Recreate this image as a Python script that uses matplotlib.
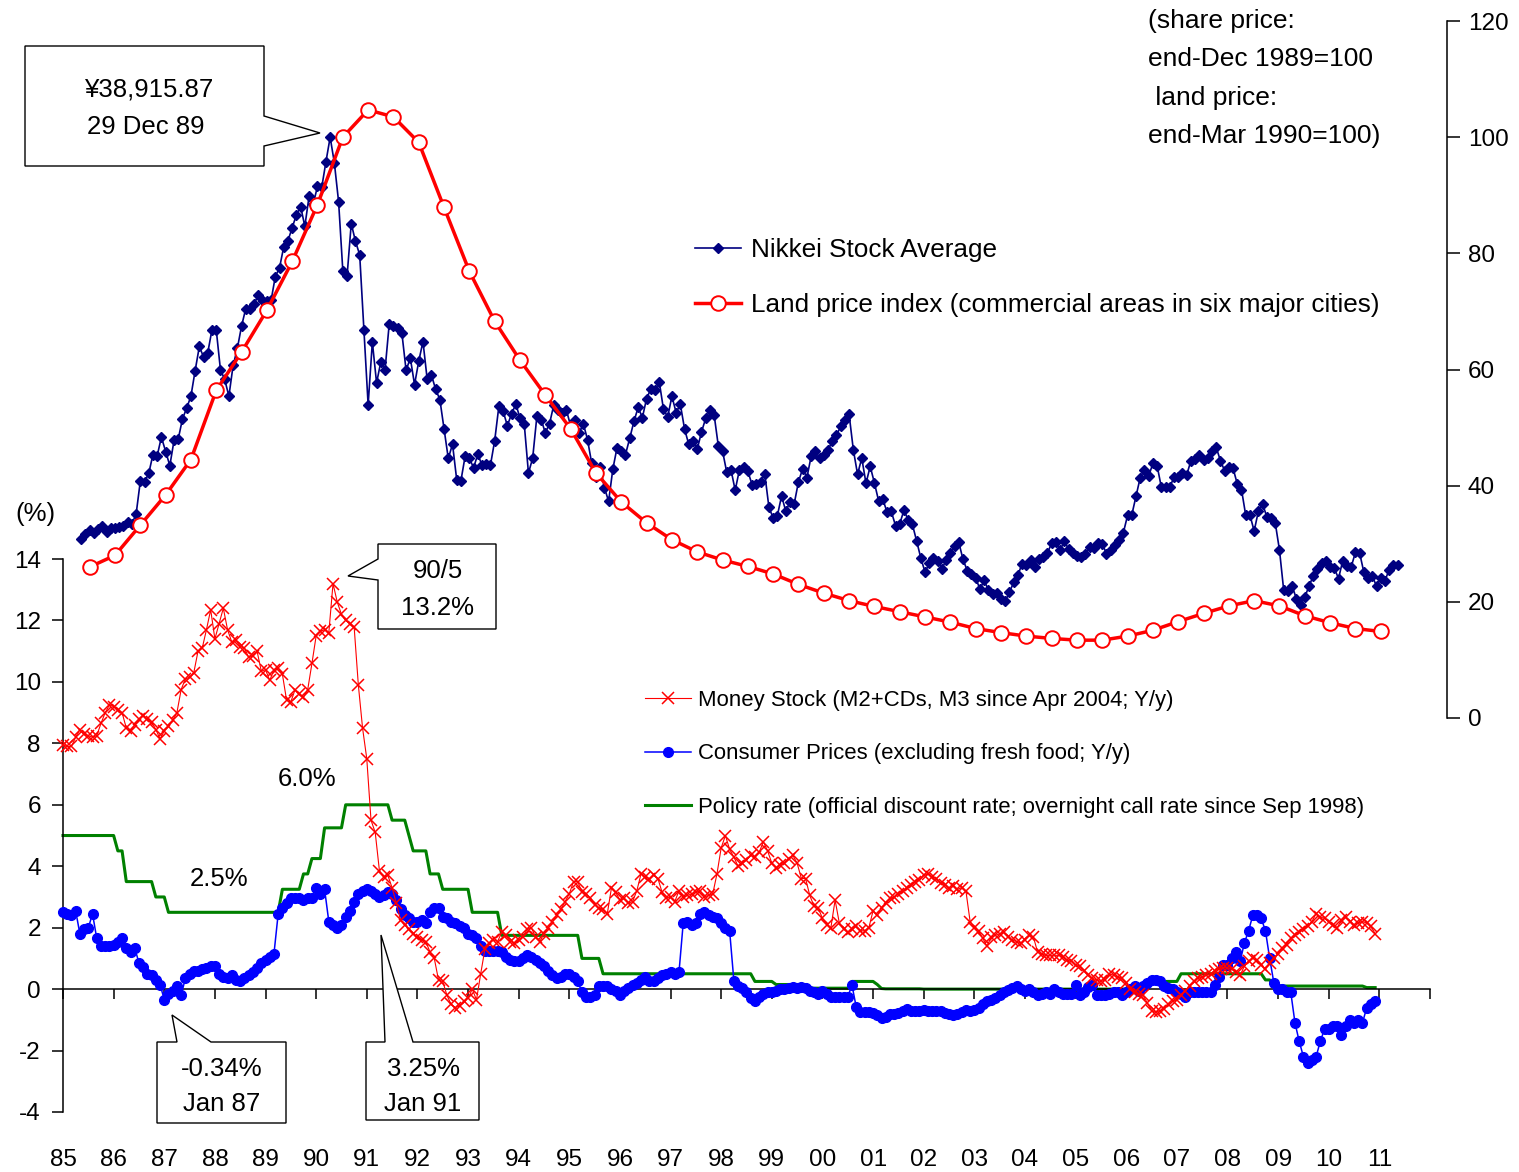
import numpy as np
import matplotlib.pyplot as plt
from matplotlib.patches import Polygon

plt.rcParams['font.family'] = ['Liberation Sans', 'DejaVu Sans']
plt.rcParams['axes.unicode_minus'] = False

# ---------------------------------------------------------------- data
# Nikkei Stock Average, month-end close (yen), Jan 1985 - Jan 2011
nikkei_close = [
    11992, 12322, 12580, 12426, 12642, 12882, 12480, 12711, 12700, 12803, 12834, 13113,  # 85
    13024, 13641, 15859, 15826, 16384, 17654, 17563, 18820, 17852, 16910, 18600, 18701,  # 86
    20048, 20766, 21567, 23275, 24901, 24176, 24488, 26029, 26011, 23329, 22687, 21564,  # 87
    23622, 24760, 26260, 27435, 27417, 27769, 28341, 27911, 27923, 27983, 29579, 30159,  # 88
    31581, 31986, 32839, 33714, 34267, 32949, 34954, 34431, 35637, 35549, 37269, 38916,  # 89
    37189, 34592, 29980, 29585, 33131, 31940, 31036, 25978, 20984, 25194, 22454, 23849,  # 90
    23293, 26409, 26292, 26111, 25790, 23291, 24121, 22336, 23916, 25222, 22687, 22984,  # 91
    22023, 21339, 19346, 17391, 18348, 15952, 15910, 17555, 17399, 16767, 17684, 16925,  # 92
    17024, 16953, 18591, 20919, 20552, 19590, 20380, 21027, 20106, 19704, 16408, 17417,  # 93
    20229, 19997, 19112, 19725, 20974, 20644, 20450, 20629, 19564, 19990, 19076, 19723,  # 94
    18650, 17053, 16140, 16807, 15437, 14517, 16678, 18117, 17913, 17655, 18744, 19868,  # 95
    20813, 20125, 21407, 22041, 21956, 22531, 20693, 20167, 21556, 20467, 21020, 19361,  # 96
    18330, 18557, 18003, 19151, 20069, 20605, 20331, 18229, 17888, 16459, 16636, 15259,  # 97
    16628, 16832, 16527, 15641, 15671, 15830, 16379, 14108, 13406, 13565, 14884, 13842,  # 98
    14499, 14368, 15837, 16702, 16112, 17530, 17862, 17437, 17605, 17942, 18558, 18934,  # 99
    19540, 19960, 20337, 17974, 16332, 17411, 15728, 16861, 15747, 14540, 14649, 13786,  # 00
    13844, 12884, 12999, 13934, 13262, 12969, 11861, 10714, 9775, 10366, 10697, 10543,   # 01
    9998, 10588, 11025, 11493, 11764, 10622, 9877, 9619, 9383, 8640, 9216, 8579,         # 02
    8340, 8363, 7973, 7831, 8425, 9083, 9563, 10344, 10219, 10560, 10101, 10677,         # 03
    10784, 11042, 11715, 11762, 11236, 11859, 11326, 11082, 10824, 10771, 11015, 11489,  # 04
    11388, 11741, 11669, 11009, 11277, 11584, 11900, 12414, 13574, 13607, 14872, 16111,  # 05
    16650, 16205, 17060, 16906, 15467, 15505, 15457, 16141, 16128, 16399, 16274, 17226,  # 06
    17383, 17604, 17288, 17400, 17876, 18138, 17249, 16569, 16786, 16738, 15681, 15308,  # 07
    13592, 13603, 12526, 13850, 14339, 13482, 13377, 13073, 11260, 8577, 8512, 8860,     # 08
    7994, 7568, 8110, 8828, 9523, 9958, 10357, 10493, 10133, 10035, 9346, 10546,         # 09
    10198, 10126, 11090, 11057, 9769, 9383, 9537, 8824, 9369, 9202, 9937, 10229,         # 10
    10238,                                                                              # 11
]
nikkei_peak = 38915.87  # 29 Dec 1989

# land price index, commercial areas in six major cities, end-Mar / end-Sep, Mar 1985 - Sep 2010
land_price = [
    26.0, 28.0, 33.2, 38.4, 44.5, 56.4, 63.0, 70.2, 78.6, 88.4,
    100.0, 104.7, 103.5, 99.1, 87.9, 76.9, 68.3, 61.6, 55.6, 49.8,
    42.2, 37.2, 33.6, 30.7, 28.6, 27.2, 26.1, 24.8, 23.0, 21.5,
    20.2, 19.2, 18.3, 17.4, 16.5, 15.4, 14.7, 14.1, 13.7, 13.4,
    13.4, 14.1, 15.1, 16.6, 18.0, 19.3, 20.2, 19.3, 17.6, 16.4,
    15.4, 14.9,
]

# money stock, % y/y, monthly Jan 1985 - Dec 2010
money_stock = [
    7.95, 7.9, 7.9, 8.2, 8.45, 8.3, 8.25, 8.2, 8.25, 8.65, 9.0, 9.25,          # 85
    9.2, 9.1, 9.0, 8.5, 8.4, 8.6, 8.8, 8.9, 8.8, 8.7, 8.45, 8.15,              # 86
    8.4, 8.55, 8.75, 9.0, 9.75, 10.1, 10.15, 10.3, 11.0, 11.1, 11.7, 12.35,    # 87
    11.4, 11.9, 12.4, 11.7, 11.3, 11.35, 11.15, 11.1, 10.8, 10.85, 11.0, 10.35,  # 88
    10.4, 10.05, 10.4, 10.45, 10.25, 9.4, 9.35, 9.75, 9.6, 9.5, 9.75, 10.6,    # 89
    11.5, 11.65, 11.7, 11.6, 13.2, 12.6, 12.2, 12.0, 11.9, 11.8, 9.9, 8.5,     # 90
    7.5, 5.5, 5.1, 3.85, 3.65, 3.7, 3.3, 2.8, 2.25, 2.1, 1.95, 1.8,            # 91
    1.7, 1.6, 1.55, 1.2, 1.0, 0.3, 0.25, -0.2, -0.5, -0.6, -0.55, -0.4,        # 92
    -0.3, 0.0, -0.35, 0.5, 1.3, 1.5, 1.6, 1.55, 1.85, 1.75, 1.55, 1.5,         # 93
    1.6, 1.7, 1.95, 2.0, 1.7, 1.55, 1.8, 2.0, 2.2, 2.4, 2.6, 2.85,             # 94
    3.1, 3.5, 3.5, 3.15, 3.1, 2.95, 2.75, 2.65, 2.6, 2.45, 3.3, 3.15,          # 95
    2.9, 2.95, 2.8, 2.85, 3.2, 3.75, 3.65, 3.6, 3.7, 3.6, 3.15, 2.95,          # 96
    3.0, 2.85, 3.2, 3.0, 3.05, 3.1, 3.15, 3.2, 3.0, 3.05, 3.1, 3.75,           # 97
    4.6, 5.0, 4.55, 4.3, 4.0, 4.1, 4.2, 4.35, 4.3, 4.45, 4.8, 4.5,             # 98
    4.1, 3.95, 4.05, 4.1, 4.25, 4.35, 4.1, 3.6, 3.6, 3.05, 2.7, 2.65,          # 99
    2.3, 2.1, 2.0, 2.9, 2.15, 1.95, 1.85, 1.95, 2.05, 1.9, 1.9, 2.0,           # 00
    2.55, 2.4, 2.65, 2.8, 2.95, 3.0, 3.1, 3.2, 3.3, 3.4, 3.5, 3.55,            # 01
    3.7, 3.75, 3.65, 3.6, 3.45, 3.4, 3.3, 3.35, 3.25, 3.3, 3.2, 2.2,           # 02
    2.0, 1.9, 1.65, 1.4, 1.7, 1.75, 1.8, 1.85, 1.7, 1.6, 1.55, 1.5,            # 03
    1.6, 1.75, 1.7, 1.2, 1.15, 1.1, 1.1, 1.1, 1.1, 1.05, 0.95, 0.9,            # 04
    0.8, 0.75, 0.6, 0.45, 0.35, 0.3, 0.25, 0.3, 0.5, 0.45, 0.4, 0.35,          # 05
    0.2, 0.0, -0.1, -0.15, -0.2, -0.45, -0.7, -0.75, -0.7, -0.65, -0.5, -0.4,  # 06
    -0.35, -0.2, -0.05, 0.1, 0.25, 0.35, 0.4, 0.45, 0.5, 0.6, 0.65, 0.7,       # 07
    0.7, 0.65, 0.55, 0.45, 0.75, 0.9, 1.0, 0.95, 0.8, 0.65, 0.85, 1.0,         # 08
    1.15, 1.35, 1.45, 1.65, 1.75, 1.85, 1.95, 2.05, 2.2, 2.45, 2.35, 2.3,      # 09
    2.2, 2.1, 2.0, 2.25, 2.35, 2.2, 2.1, 2.15, 2.2, 2.15, 2.05, 1.8,           # 10
]

# consumer prices excluding fresh food, % y/y, monthly Jan 1985 - Dec 2010
cpi = [
    2.5, 2.45, 2.4, 2.55, 1.8, 1.95, 2.0, 2.45, 1.65, 1.4, 1.4, 1.4,           # 85
    1.45, 1.55, 1.65, 1.35, 1.2, 1.35, 0.85, 0.72, 0.5, 0.45, 0.3, 0.15,       # 86
    -0.34, -0.15, -0.05, 0.1, -0.2, 0.35, 0.5, 0.6, 0.6, 0.65, 0.7, 0.75,      # 87
    0.75, 0.5, 0.4, 0.36, 0.45, 0.3, 0.25, 0.35, 0.45, 0.55, 0.7, 0.85,        # 88
    0.95, 1.05, 1.15, 2.45, 2.65, 2.8, 2.95, 2.95, 2.95, 2.9, 2.95, 2.95,      # 89
    3.3, 3.1, 3.25, 2.2, 2.1, 2.0, 2.1, 2.35, 2.55, 2.85, 3.1, 3.2,            # 90
    3.25, 3.2, 3.1, 3.0, 3.05, 3.15, 3.1, 2.9, 2.6, 2.4, 2.3, 2.2,             # 91
    2.2, 2.25, 2.15, 2.5, 2.65, 2.65, 2.35, 2.3, 2.2, 2.15, 2.05, 2.0,         # 92
    1.8, 1.75, 1.65, 1.4, 1.25, 1.25, 1.25, 1.25, 1.2, 1.05, 0.95, 0.9,        # 93
    0.9, 1.0, 1.1, 1.05, 0.95, 0.85, 0.75, 0.6, 0.45, 0.35, 0.4, 0.5,          # 94
    0.5, 0.4, 0.25, -0.1, -0.25, -0.25, -0.2, 0.1, 0.1, 0.1, 0.0, -0.05,       # 95
    -0.2, -0.05, 0.05, 0.15, 0.2, 0.3, 0.4, 0.25, 0.25, 0.35, 0.45, 0.5,       # 96
    0.55, 0.5, 0.55, 2.15, 2.2, 2.1, 2.15, 2.45, 2.5, 2.4, 2.35, 2.3,          # 97
    2.15, 2.0, 1.9, 0.28, 0.1, 0.05, -0.1, -0.3, -0.4, -0.25, -0.15, -0.1,     # 98
    -0.1, -0.05, 0.0, 0.02, 0.05, 0.08, 0.05, 0.08, 0.05, -0.05, -0.1, -0.15,  # 99
    -0.05, -0.15, -0.25, -0.25, -0.25, -0.25, -0.25, 0.13, -0.58, -0.74, -0.74, -0.74,  # 00
    -0.78, -0.85, -0.95, -0.9, -0.8, -0.8, -0.78, -0.7, -0.65, -0.7, -0.7, -0.7,      # 01
    -0.68, -0.7, -0.72, -0.72, -0.7, -0.78, -0.8, -0.85, -0.82, -0.75, -0.68, -0.7,   # 02
    -0.68, -0.63, -0.5, -0.4, -0.36, -0.3, -0.2, -0.1, -0.03, 0.05, 0.1, 0.02,        # 03
    -0.05, 0.0, -0.1, -0.2, -0.15, -0.1, -0.15, 0.0, -0.1, -0.15, -0.15, -0.15,       # 04
    0.13, -0.2, -0.1, 0.08, 0.15, -0.2, -0.2, -0.2, -0.15, -0.1, -0.1, -0.2,          # 05
    -0.1, 0.0, 0.1, -0.05, 0.1, 0.2, 0.3, 0.3, 0.25, 0.1, 0.05, 0.0,                  # 06
    -0.1, -0.15, -0.25, -0.1, -0.1, -0.1, -0.1, -0.1, -0.1, 0.13, 0.4, 0.8,           # 07
    0.8, 1.0, 1.2, 0.9, 1.5, 1.9, 2.4, 2.4, 2.3, 1.9, 1.0, 0.2,                       # 08
    0.0, 0.0, -0.1, -0.1, -1.1, -1.7, -2.2, -2.4, -2.3, -2.2, -1.7, -1.3,             # 09
    -1.3, -1.2, -1.2, -1.5, -1.2, -1.0, -1.1, -1.0, -1.1, -0.6, -0.5, -0.4,           # 10
]

# policy rate, %, monthly Jan 1985 - Dec 2010
policy_rate = [
    5.0, 5.0, 5.0, 5.0, 5.0, 5.0, 5.0, 5.0, 5.0, 5.0, 5.0, 5.0,                  # 85
    5.0, 4.5, 4.5, 3.5, 3.5, 3.5, 3.5, 3.5, 3.5, 3.5, 3.0, 3.0,                  # 86
    3.0, 2.5, 2.5, 2.5, 2.5, 2.5, 2.5, 2.5, 2.5, 2.5, 2.5, 2.5,                  # 87
    2.5, 2.5, 2.5, 2.5, 2.5, 2.5, 2.5, 2.5, 2.5, 2.5, 2.5, 2.5,                  # 88
    2.5, 2.5, 2.5, 2.5, 3.25, 3.25, 3.25, 3.25, 3.25, 3.75, 3.75, 4.25,          # 89
    4.25, 4.25, 5.25, 5.25, 5.25, 5.25, 5.25, 6.0, 6.0, 6.0, 6.0, 6.0,           # 90
    6.0, 6.0, 6.0, 6.0, 6.0, 6.0, 5.5, 5.5, 5.5, 5.5, 5.0, 4.5,                  # 91
    4.5, 4.5, 4.5, 3.75, 3.75, 3.75, 3.25, 3.25, 3.25, 3.25, 3.25, 3.25,         # 92
    3.25, 2.5, 2.5, 2.5, 2.5, 2.5, 2.5, 2.5, 1.75, 1.75, 1.75, 1.75,             # 93
    1.75, 1.75, 1.75, 1.75, 1.75, 1.75, 1.75, 1.75, 1.75, 1.75, 1.75, 1.75,      # 94
    1.75, 1.75, 1.75, 1.0, 1.0, 1.0, 1.0, 1.0, 0.5, 0.5, 0.5, 0.5,               # 95
    0.5, 0.5, 0.5, 0.5, 0.5, 0.5, 0.5, 0.5, 0.5, 0.5, 0.5, 0.5,                  # 96
    0.5, 0.5, 0.5, 0.5, 0.5, 0.5, 0.5, 0.5, 0.5, 0.5, 0.5, 0.5,                  # 97
    0.5, 0.5, 0.5, 0.5, 0.5, 0.5, 0.5, 0.5, 0.25, 0.25, 0.25, 0.25,              # 98
    0.25, 0.15, 0.15, 0.15, 0.15, 0.15, 0.15, 0.15, 0.15, 0.03, 0.03, 0.03,      # 99
    0.03, 0.03, 0.03, 0.03, 0.03, 0.03, 0.03, 0.25, 0.25, 0.25, 0.25, 0.25,      # 00
    0.25, 0.15, 0.02, 0.01, 0.01, 0.01, 0.01, 0.01, 0.01, 0.01, 0.01, 0.01,      # 01
    0.0, 0.0, 0.0, 0.0, 0.0, 0.0, 0.0, 0.0, 0.0, 0.0, 0.0, 0.0,                  # 02
    0.0, 0.0, 0.0, 0.0, 0.0, 0.0, 0.0, 0.0, 0.0, 0.0, 0.0, 0.0,                  # 03
    0.0, 0.0, 0.0, 0.0, 0.0, 0.0, 0.0, 0.0, 0.0, 0.0, 0.0, 0.0,                  # 04
    0.0, 0.0, 0.0, 0.0, 0.0, 0.0, 0.0, 0.0, 0.0, 0.0, 0.0, 0.0,                  # 05
    0.0, 0.0, 0.0, 0.0, 0.0, 0.0, 0.25, 0.25, 0.25, 0.25, 0.25, 0.25,            # 06
    0.25, 0.5, 0.5, 0.5, 0.5, 0.5, 0.5, 0.5, 0.5, 0.5, 0.5, 0.5,                 # 07
    0.5, 0.5, 0.5, 0.5, 0.5, 0.5, 0.5, 0.5, 0.5, 0.3, 0.3, 0.1,                  # 08
    0.1, 0.1, 0.1, 0.1, 0.1, 0.1, 0.1, 0.1, 0.1, 0.1, 0.1, 0.1,                  # 09
    0.1, 0.1, 0.1, 0.1, 0.1, 0.1, 0.1, 0.1, 0.1, 0.05, 0.05, 0.05,               # 10
]

year_labels = ['85', '86', '87', '88', '89', '90', '91', '92', '93', '94', '95', '96', '97',
               '98', '99', '00', '01', '02', '03', '04', '05', '06', '07', '08', '09', '10', '11']
scale_note = ['(share price:', 'end-Dec 1989=100', ' land price:', 'end-Mar 1990=100)']

# the two index series sit on a shifted secondary category axis in the original
SHIFT = 0.36

x_money = 1985 + np.arange(len(money_stock)) / 12
x_cpi = 1985 + np.arange(len(cpi)) / 12
x_policy = 1985 + np.arange(len(policy_rate)) / 12
x_nikkei = 1985 + SHIFT + np.arange(len(nikkei_close)) / 12
x_land = 1985 + 2 / 12 + SHIFT + np.arange(len(land_price)) / 2
nikkei_index = np.array(nikkei_close) / nikkei_peak * 100

# ---------------------------------------------------------------- figure
W, H = 1519, 1172
fig = plt.figure(figsize=(W / 100, H / 100), dpi=100)


def fxy(x, y):
    # pixel position in the picture -> figure fraction
    return x / W, 1 - y / H


ax = fig.add_axes([63 / W, 1 - 1112 / H, (1430 - 63) / W, (1112 - 15) / H])
ax.set_xlim(1985, 2012)
ax.set_ylim(-4, 31.71)

pol_line, = ax.plot(x_policy, policy_rate, color='#008000', lw=2.2, zorder=2, clip_on=False)
cpi_line, = ax.plot(x_cpi, cpi, color='#0000FF', lw=1.1, marker='o', ms=7,
                    zorder=3, clip_on=False)
ms_line, = ax.plot(x_money, money_stock, color='#FF0000', lw=0.8, marker='x', ms=8,
                   mew=1.1, zorder=4, clip_on=False)

ax2 = ax.twinx()
ax2.set_ylim(-67.84, 121.04)
nk_line, = ax2.plot(x_nikkei, nikkei_index, color='#000080', lw=1.2, marker='D', ms=5.3,
                    zorder=3, clip_on=False)
land_line, = ax2.plot(x_land, land_price, color='#FF0000', lw=2.5, marker='o', ms=10.5,
                      mfc='white', mec='#FF0000', mew=1.4, zorder=4, clip_on=False)

# axes / spines
for s in ['top', 'right']:
    ax.spines[s].set_visible(False)
ax.spines['left'].set_bounds(-4, 14)
ax.spines['bottom'].set_position(('data', 0))
ax.spines['bottom'].set_bounds(1985, 2012)
for s in ['top', 'left', 'bottom']:
    ax2.spines[s].set_visible(False)
ax2.spines['right'].set_bounds(0, 120)
ax2.spines['right'].set_position(('outward', 12.2))
for sp in [ax.spines['left'], ax.spines['bottom'], ax2.spines['right']]:
    sp.set_linewidth(1.1)

ax.set_xticks(range(1985, 2013))
ax.set_xticklabels(year_labels + [''])
ax.set_yticks(range(-4, 15, 2))
ax2.set_yticks(range(0, 121, 20))
ax.tick_params(axis='x', direction='out', length=7, width=1.1, pad=108, labelsize=17.5)
ax.tick_params(axis='y', direction='out', length=8, width=1.1, pad=8, labelsize=17.5)
ax2.tick_params(axis='y', direction='out', length=9, width=1.1, pad=6, labelsize=17.5)

# legends
leg1 = ax2.legend([nk_line, land_line],
                  ['Nikkei Stock Average', 'Land price index (commercial areas in six major cities)'],
                  loc='upper left', bbox_to_anchor=fxy(695, 238), bbox_transform=fig.transFigure,
                  frameon=False, fontsize=18.8, borderpad=0, borderaxespad=0,
                  handlelength=1.75, handletextpad=0.4, labelspacing=1.18, numpoints=1)
ax2.add_artist(leg1)
ax2.legend([ms_line, cpi_line, pol_line],
           ['Money Stock (M2+CDs, M3 since Apr 2004; Y/y)',
            'Consumer Prices (excluding fresh food; Y/y)',
            'Policy rate (official discount rate; overnight call rate since Sep 1998)'],
           loc='upper left', bbox_to_anchor=fxy(645, 690), bbox_transform=fig.transFigure,
           frameon=False, fontsize=15.9, borderpad=0, borderaxespad=0,
           handlelength=2.1, handletextpad=0.3, labelspacing=1.47, numpoints=1)

# texts
fig.text(*fxy(35, 514), '(%)', ha='center', va='center', fontsize=18.5)
for i, line in enumerate(scale_note):
    fig.text(*fxy(1148, 21 + 38.5 * i), line, ha='left', va='center', fontsize=19)
ax.text(1989.82, 6.84, '6.0%', ha='center', va='center', fontsize=18.5)
ax.text(1988.08, 3.58, '2.5%', ha='center', va='center', fontsize=18.5)

# callout boxes
callouts = [
    ([(25, 46), (264, 46), (264, 116), (320, 133), (264, 146), (264, 166), (25, 166)],
     [('¥38,915.87', 149, 89), ('29 Dec 89', 146, 127)]),
    ([(378, 544), (496, 544), (496, 629), (378, 629), (378, 580), (348, 576), (378, 559)],
     [('90/5', 438, 571), ('13.2%', 438, 608)]),
    ([(157, 1042), (177, 1042), (172, 1015), (211, 1042), (286, 1042), (286, 1123), (157, 1123)],
     [('-0.34%', 222, 1069), ('Jan 87', 222, 1104)]),
    ([(366, 1042), (385, 1042), (381, 935), (413, 1042), (479, 1042), (479, 1120), (366, 1120)],
     [('3.25%', 423, 1069), ('Jan 91', 423, 1104)]),
]
for verts, texts in callouts:
    fig.add_artist(Polygon([fxy(*v) for v in verts], closed=True, transform=fig.transFigure,
                           facecolor='white', edgecolor='black', lw=1.0, zorder=5))
    for s, x, y in texts:
        fig.text(*fxy(x, y), s, ha='center', va='center', fontsize=18.5, zorder=6)

fig.savefig('out.png', dpi=100)
